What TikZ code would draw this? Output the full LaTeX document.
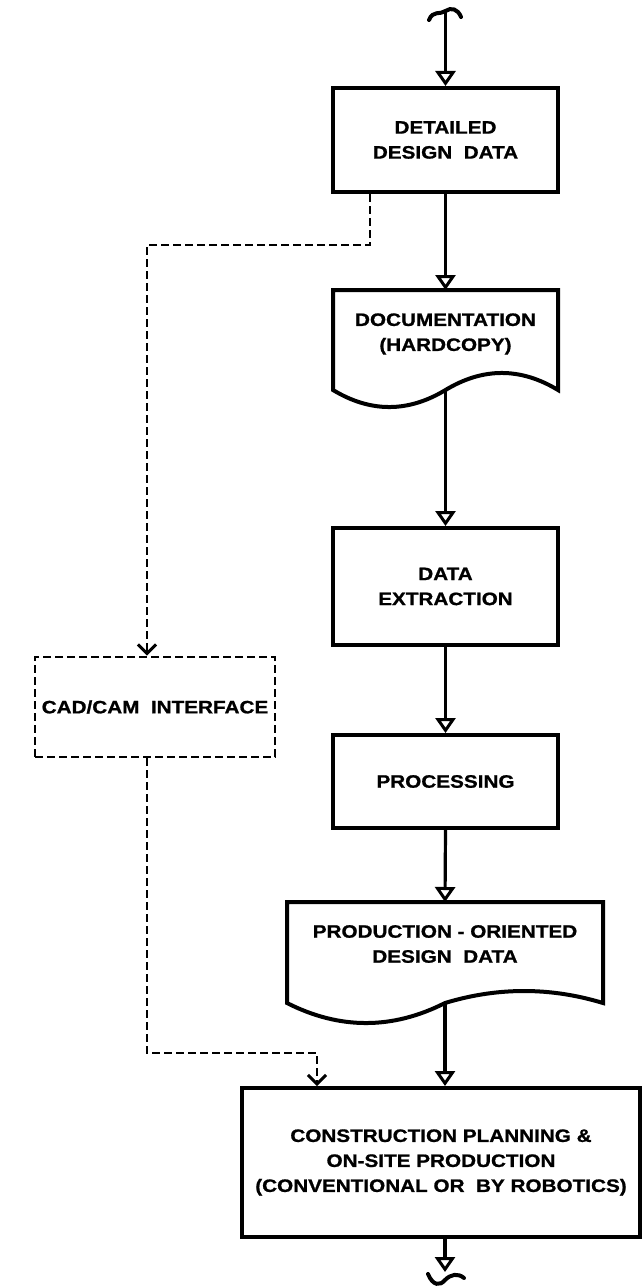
\documentclass[tikz,border=0pt]{standalone}
\usepackage{fontspec}
\setmainfont{Liberation Sans}[FakeStretch=1.15,FakeBold=1]
\usetikzlibrary{arrows.meta,calc}

\tikzset{
  boxline/.style={line width=4pt, line join=miter},
  stepbox/.style={boxline, draw, rectangle, inner sep=0pt, align=center},
  label/.style={align=center, inner sep=0pt},
  flow/.style={line width=3.2pt, -{Triangle[open,length=15pt,width=20pt,line width=3pt]}},
  dflow/.style={line width=2.8pt, dash pattern=on 8pt off 4pt,
    -{Straight Barb[length=9pt,width=18pt,line width=3pt]}},
  squiggle/.style={line width=4pt, line cap=round},
}

\begin{document}
\begin{tikzpicture}[x=1pt, y=-1pt,
  every node/.style={font=\fontsize{18}{25}\selectfont\bfseries}]
  \useasboundingbox (0,0) rectangle (642,1287);

  % process boxes
  \node[stepbox, minimum width=225pt, minimum height=104pt] (n1) at (445.5,140)
    {DETAILED\\DESIGN\ \ DATA};
  \node[stepbox, minimum width=225pt, minimum height=117pt] (n3) at (445.5,586.5)
    {DATA\\EXTRACTION};
  \node[stepbox, minimum width=225pt, minimum height=93pt] (n4) at (445.5,781.5)
    {PROCESSING};
  \node[stepbox, minimum width=398pt, minimum height=149pt] (n6) at (441,1162.5)
    {CONSTRUCTION PLANNING \&\\ON-SITE PRODUCTION\\(CONVENTIONAL OR\ \ BY ROBOTICS)};
  \node[stepbox, dash pattern=on 8pt off 4pt, line width=2.8pt,
        minimum width=240pt, minimum height=100pt] (cad) at (155,707)
    {CAD/CAM\ \ INTERFACE};

  % document shapes with wavy lower edge
  \draw[boxline] (333,390) -- (333,290) -- (558,290) -- (558,390)
    .. controls (520.5,367.3) and (483,367.3) .. (445.5,390)
    .. controls (408,412.7) and (370.5,412.7) .. (333,390) -- cycle;
  \node[label] (d1) at (445.5,334) {DOCUMENTATION\\(HARDCOPY)};
  \coordinate (d1top) at (445.5,290);
  \coordinate (d1bot) at (445.5,390);

  \draw[boxline] (287,1003) -- (287,902) -- (603,902) -- (603,1003)
    .. controls (550.3,987) and (497.7,987) .. (445,1003)
    .. controls (392.3,1029.7) and (339.7,1029.7) .. (287,1003) -- cycle;
  \node[label] (d2) at (445,944) {PRODUCTION - ORIENTED\\DESIGN\ \ DATA};
  \coordinate (d2top) at (445,902);
  \coordinate (d2bot) at (445,1003);

  % entry and exit breaks
  \coordinate (in) at (445.5,12);
  \coordinate (out) at (445,1272);
  \draw[squiggle] (429,20) .. controls (433,10) and (440,15) .. (445.5,11)
    .. controls (451,7) and (458,9) .. (461,17);
  \draw[squiggle] (428,1274) .. controls (433,1286) and (440,1286) .. (445,1280)
    .. controls (451,1274) and (458,1273) .. (464,1278);

  % main flow
  \draw[flow] (in) -- (n1.north);
  \draw[flow] (n1.south) -- (d1top);
  \draw[flow] (d1bot) -- (n3.north);
  \draw[flow] (n3.south) -- (n4.north);
  \draw[flow] (n4.south) -- (d2top);
  \draw[flow] (d2bot) -- (d2bot |- n6.north);
  \draw[flow] (out |- n6.south) -- (out);

  % CAD/CAM branch
  \coordinate (b1) at ($(n1.south west)+(39,0)$);
  \coordinate (k1) at (147,245);
  \coordinate (k2) at (317,1053);
  \draw[dflow] (b1) |- (k1) -- (k1 |- cad.north);
  \draw[dflow] (cad.south -| k1) |- (k2) -- (k2 |- n6.north);
\end{tikzpicture}
\end{document}
